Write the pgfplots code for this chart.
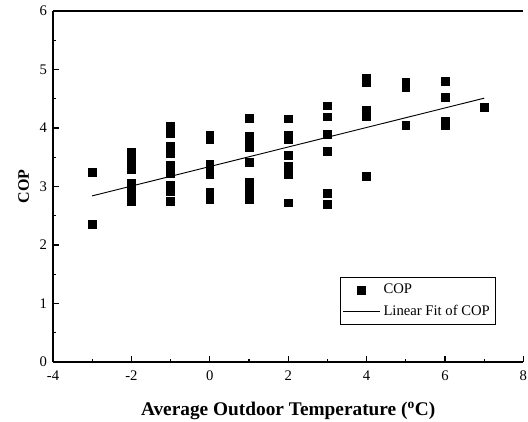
\documentclass[border=0pt]{standalone}
\usepackage{fontspec}
\setmainfont{Liberation Serif}
\usepackage{pgfplots}
\pgfplotsset{compat=1.18}
\pgfplotsset{
  markleg/.style={legend image code/.code={\draw[##1, mark repeat=2, mark phase=2] plot coordinates {(0pt,0pt) (14pt,0pt) (28pt,0pt)};}},
  lineleg/.style={legend image code/.code={\draw[##1] (0pt,0pt) -- (28pt,0pt);}},
}
\begin{document}
\begin{tikzpicture}
\begin{axis}[
  at={(0,0)}, anchor=south west,
  scale only axis, width=352.8pt, height=263.25pt,
  xmin=-4, xmax=8, ymin=0, ymax=6,
  axis x line=box, axis y line=left,
  axis line style={-, line width=1.1pt},
  xtick={-4,-2,0,2,4,6,8}, ytick={0,1,2,3,4,5,6},
  minor x tick num=1, minor y tick num=1,
  xtick pos=bottom, ytick pos=left,
  tick align=inside,
  major tick length=4.5pt, minor tick length=2.5pt,
  every tick/.style={black, line width=0.8pt},
  tick label style={font=\fontsize{11}{12}\selectfont},
  xticklabel style={yshift=-3pt},
  yticklabel style={xshift=-1pt},
  /pgf/number format/assume math mode=true,
  xlabel={\textbf{Average Outdoor Temperature (\textsuperscript{o}C)}},
  ylabel={\textbf{COP}},
  xlabel style={font=\fontsize{14.5}{16}\selectfont, yshift=-9pt},
  ylabel style={font=\fontsize{12}{14}\selectfont, yshift=1pt},
  legend style={at={(axis cs:7.29,1.45)}, anchor=north east, draw=black, line width=0.6pt,
    font=\fontsize{11}{13}\selectfont, inner xsep=2pt, inner ysep=3pt, row sep=3pt},
  legend cell align=left,
]
\addplot[only marks, mark=square*, mark size=2.9pt, black, markleg]
coordinates {
(-3,3.24) (-3,2.35)
(-2,3.58) (-2,3.44) (-2,3.30) (-2,3.06) (-2,2.90) (-2,2.75)
(-1,4.03) (-1,3.90) (-1,3.69) (-1,3.56) (-1,3.36) (-1,3.23) (-1,3.02) (-1,2.92) (-1,2.75)
(0,3.87) (0,3.80) (0,3.38) (0,3.28) (0,3.21) (0,2.90) (0,2.78)
(1,4.17) (1,3.86) (1,3.75) (1,3.67) (1,3.41) (1,3.07) (1,2.97) (1,2.91) (1,2.78)
(2,4.16) (2,3.87) (2,3.80) (2,3.53) (2,3.35) (2,3.21) (2,2.72)
(3,4.38) (3,4.19) (3,3.89) (3,3.60) (3,2.89) (3,2.70)
(4,4.86) (4,4.78) (4,4.30) (4,4.19) (4,3.18)
(5,4.79) (5,4.70) (5,4.05)
(6,4.80) (6,4.53) (6,4.11) (6,4.04)
(7,4.36)
};
\addlegendentry{COP}
\addplot[black, line width=0.7pt, no marks, lineleg]
coordinates {(-3,2.84) (7,4.51)};
\addlegendentry{Linear Fit of COP}
\end{axis}
\pgfresetboundingbox
\useasboundingbox (-39.75pt,-44.25pt) rectangle (356.25pt,271.5pt);
\end{tikzpicture}
\end{document}
